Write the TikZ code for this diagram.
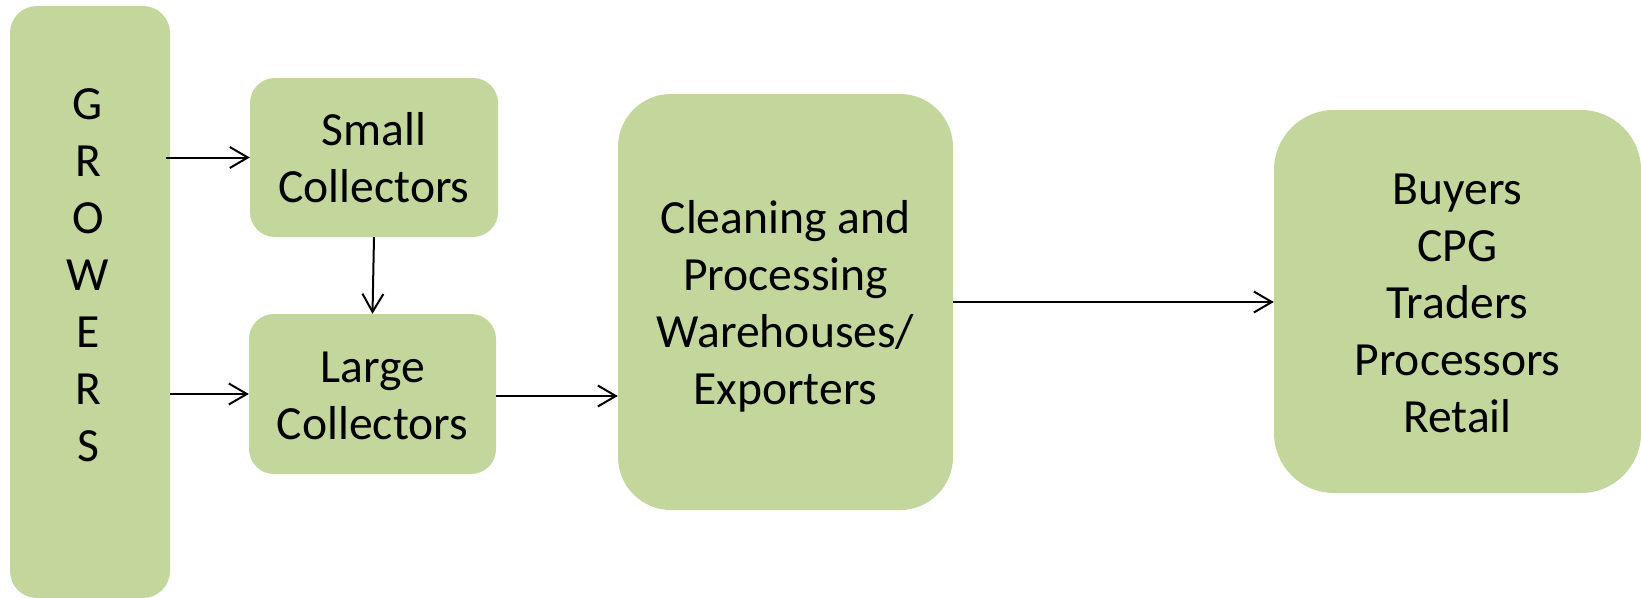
\documentclass[tikz,border=0pt]{standalone}
\usepackage{fontspec}
\setmainfont{Carlito}
\usetikzlibrary{arrows.meta}
\definecolor{boxgreen}{HTML}{C3D69B}
\tikzset{
  box/.style={fill=boxgreen, draw=none, inner sep=0pt},
  txt/.style={align=center, inner sep=0pt, font=\fontsize{47.6pt}{57pt}\selectfont},
  arr/.style={draw=black, line width=2pt, -{Straight Barb[length=18pt,width=21pt,line width=2pt]}}
}
\begin{document}
\begin{tikzpicture}[x=1pt,y=-1pt]
\useasboundingbox[fill=white] (0,0) rectangle (1641,597);
% Growers
\node[box, rounded corners=27pt, minimum width=160pt, minimum height=592pt] (g) at (90,302) {};
\node[txt] (gt) at (88,275) {G\\R\\O\\W\\E\\R\\S};
% Small collectors
\node[box, rounded corners=25pt, minimum width=248pt, minimum height=159pt] (s) at (374,157.5) {};
\node[txt] (st) at (s) {Small\\Collectors};
% Large collectors
\node[box, rounded corners=25pt, minimum width=247pt, minimum height=160pt] (l) at (372.5,394) {};
\node[txt, yshift=-2pt] (lt) at (l) {Large\\Collectors};
% Cleaning
\node[box, rounded corners=53pt, minimum width=335pt, minimum height=416pt] (c) at (785.5,302) {};
\node[txt, yshift=-4pt] (ct) at (c) {Cleaning and\\Processing\\Warehouses/\\Exporters};
% Buyers
\node[box, rounded corners=60pt, minimum width=367pt, minimum height=383pt] (b) at (1457.5,301.5) {};
\node[txt, yshift=-2pt] (bt) at (b) {Buyers\\CPG\\Traders\\Processors\\Retail};
% arrows
\draw[arr] ([xshift=-4pt]g.east |- s.west) -- (s.west);
\draw[arr] (g.east |- l.west) -- (l.west);
\draw[arr] (s.south) -- (l.north);
\draw[arr] ([yshift=-2pt]l.east) -- ([yshift=-2pt]c.west |- l.east);
\draw[arr] (c.east) -- (c.east -| b.west);
\end{tikzpicture}
\end{document}
